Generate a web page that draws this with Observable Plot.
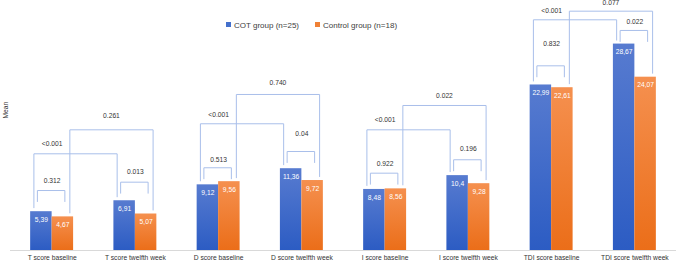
<!DOCTYPE html>
<html><head><meta charset="utf-8">
<script src="https://cdn.jsdelivr.net/npm/d3@7"></script>
<script src="https://cdn.jsdelivr.net/npm/@observablehq/plot@0.6"></script>
<style>
body{margin:0;background:#fff;}
#wrap{position:relative;width:676px;height:262px;font-family:"Liberation Sans",Arial,sans-serif;}
.item{position:absolute;top:21px;font-size:8px;color:#404040;white-space:nowrap;line-height:10px;}
.sw{display:inline-block;width:5px;height:5px;margin-right:3px;vertical-align:1px;}
</style></head>
<body><div id="wrap"></div>
<script>
// ---- data ----
const categories = ["T score baseline","T score twelfth week","D score baseline","D score twelfth week","I score baseline","I score twelfth week","TDI score baseline","TDI score twelfth week"];
const groups = ["COT group (n=25)","Control group (n=18)"];
const cotValues = [5.39, 6.91, 9.12, 11.36, 8.48, 10.4, 22.99, 28.67];
const controlValues = [4.67, 5.07, 9.56, 9.72, 8.56, 9.28, 22.61, 24.07];
// p-values per score (T, D, I, TDI)
const pWithinBaseline = ["0.312","0.513","0.922","0.832"];
const pWithinTwelfth = ["0.013","0.04","0.196","0.022"];
const pCrossCOT = ["<0.001","<0.001","<0.001","<0.001"];
const pCrossControl = ["0.261","0.740","0.022","0.077"];
// bracket heights (in "Mean" units)
const levelWithinBaseline = [8.33, 11.49, 10.74, 25.65];
const levelWithinTwelfth = [9.49, 13.75, 12.6, 30.56];
const levelCrossCOT = [13.43, 17.6, 16.76, 32.04];
const levelCrossControl = [16.76, 21.67, 20.14, 33.24];
const labelWithinBaseline = [9.72, 12.6, 12.04, 28.7];
const labelWithinTwelfth = [10.88, 16.2, 14.13, 31.71];
const labelCrossCOT = [14.82, 18.9, 18.19, 33.33];
const labelCrossControl = [18.75, 23.24, 21.53, 34.35];

// ---- build tables ----
const bw = 0.258; // bar width in category units
const cotBars = cotValues.map((v, i) => ({i, x1: i - bw, x2: i, value: v}));
const ctlBars = controlValues.map((v, i) => ({i, x1: i, x2: i + bw, value: v}));
const allBars = cotBars.concat(ctlBars);
const fmt = v => String(v).replace(".", ",");

const gap = 0.55, leg = 1.53;
const pts = [], labels = [];
for (let k = 0; k < 4; k++) {
  const b = 2 * k, t = b + 1;
  // within baseline
  let xl = b - 0.177, xr = b + 0.153, L = levelWithinBaseline[k];
  pts.push({id: "wb" + k, x: xl, y: L - leg}, {id: "wb" + k, x: xl, y: L}, {id: "wb" + k, x: xr, y: L}, {id: "wb" + k, x: xr, y: L - leg});
  labels.push({x: b, y: labelWithinBaseline[k], t: pWithinBaseline[k]});
  // within twelfth
  xl = t - 0.177; xr = t + 0.153; L = levelWithinTwelfth[k];
  pts.push({id: "wt" + k, x: xl, y: L - leg}, {id: "wt" + k, x: xl, y: L}, {id: "wt" + k, x: xr, y: L}, {id: "wt" + k, x: xr, y: L - leg});
  labels.push({x: t, y: labelWithinTwelfth[k], t: pWithinTwelfth[k]});
  // cross COT
  xl = b - 0.219; xr = t - 0.219; L = levelCrossCOT[k];
  pts.push({id: "cc" + k, x: xl, y: cotValues[b] + gap}, {id: "cc" + k, x: xl, y: L}, {id: "cc" + k, x: xr, y: L}, {id: "cc" + k, x: xr, y: cotValues[t] + gap});
  labels.push({x: b, y: labelCrossCOT[k], t: pCrossCOT[k]});
  // cross Control
  xl = b + 0.213; xr = t + 0.213; L = levelCrossControl[k];
  pts.push({id: "ck" + k, x: xl, y: controlValues[b] + gap}, {id: "ck" + k, x: xl, y: L}, {id: "ck" + k, x: xr, y: L}, {id: "ck" + k, x: xr, y: controlValues[t] + gap});
  labels.push({x: (xl + xr) / 2, y: labelCrossControl[k], t: pCrossControl[k]});
}

const font = "Liberation Sans, Arial, sans-serif";
const chart = Plot.plot({
  width: 676, height: 262,
  marginLeft: 10, marginRight: 0, marginTop: 0, marginBottom: 12,
  x: {type: "linear", domain: [-0.5, 7.5], axis: null},
  y: {domain: [0, 250 / 7.2], axis: null},
  style: {fontFamily: font, background: "transparent", overflow: "visible"},
  marks: [
    Plot.rect(cotBars, {x1: "x1", x2: "x2", y1: 0, y2: "value", fill: "url(#gCOT)"}),
    Plot.rect(ctlBars, {x1: "x1", x2: "x2", y1: 0, y2: "value", fill: "url(#gCTL)"}),
    Plot.ruleY([0], {stroke: "#d9d9d9"}),
    Plot.line(pts, {x: "x", y: "y", z: "id", stroke: "#a9bfea", strokeWidth: 1}),
    Plot.text(labels, {x: "x", y: "y", text: "t", fontSize: 6.7, fill: "#333"}),
    Plot.text(allBars, {x: d => (d.x1 + d.x2) / 2, y: "value", dy: 8, text: d => fmt(d.value), fill: "white", fontSize: 6.7}),
    Plot.axisX({ticks: d3.range(categories.length), tickFormat: i => categories[i], tickSize: 0, tickPadding: 5, fontSize: 6.7, fill: "#333", label: null}),
    Plot.text(["Mean"], {frameAnchor: "left", rotate: -90, dx: -5, dy: -7, fontSize: 6.7, fill: "#333"})
  ]
});

const ns = "http://www.w3.org/2000/svg";
const defs = document.createElementNS(ns, "defs");
defs.innerHTML = `
<linearGradient id="gCOT" x1="0" y1="0" x2="0" y2="1"><stop offset="0" stop-color="#577bd0"/><stop offset="1" stop-color="#2c5cc3"/></linearGradient>
<linearGradient id="gCTL" x1="0" y1="0" x2="0" y2="1"><stop offset="0" stop-color="#f5904f"/><stop offset="1" stop-color="#eb6e19"/></linearGradient>`;
chart.insertBefore(defs, chart.firstChild);

const wrap = document.getElementById("wrap");
wrap.appendChild(chart);
const colors = ["#4470cc", "#f08136"];
const lefts = [226, 315];
groups.forEach((g, i) => {
  const div = document.createElement("div");
  div.className = "item";
  div.style.left = lefts[i] + "px";
  div.innerHTML = `<span class="sw" style="background:${colors[i]}"></span>${g}`;
  wrap.appendChild(div);
});
</script>
</body></html>
